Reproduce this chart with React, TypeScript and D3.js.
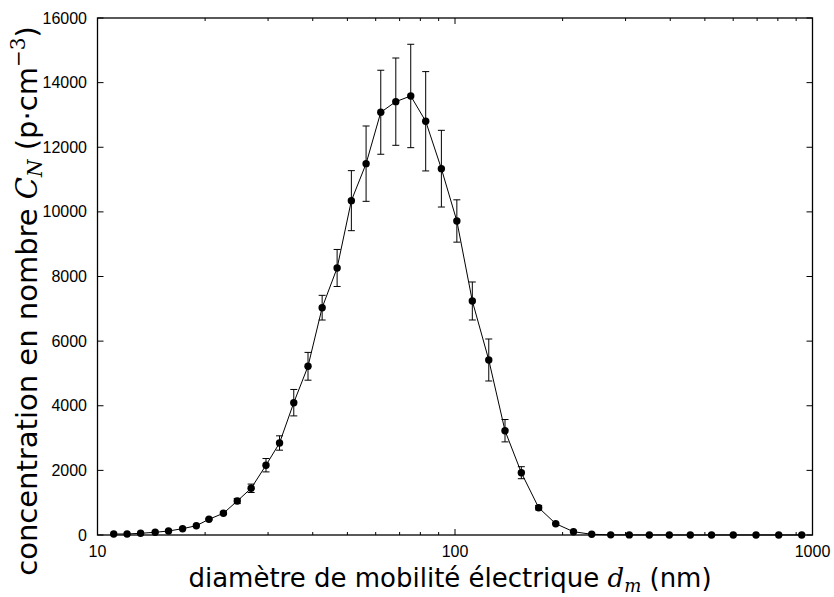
import React from 'react';
import * as d3 from 'd3';

// mobility diameter (nm)
const diameters = [11.1, 12.1, 13.2, 14.5, 15.8, 17.3, 18.9, 20.5, 22.5, 24.6, 26.9, 29.6, 32.3, 35.4, 38.8, 42.5, 46.8, 51.3, 56.4, 62.0, 68.3, 75.2, 82.8, 91.6, 101.2, 111.8, 124.3, 138.0, 153.3, 171.4, 191.3, 214.5, 241.2, 272.6, 307.3, 349.6, 397.6, 455.2, 521.9, 600.3, 695.1, 804.5, 933.0];
// number concentration (p/cm3)
const concentrations = [31, 31, 53, 84, 124, 195, 288, 486, 672, 1052, 1445, 2160, 2847, 4095, 5221, 7035, 8264, 10347, 11492, 13083, 13411, 13587, 12804, 11337, 9718, 7242, 5416, 3228, 1928, 845, 350, 102, 22, 5, 3, 2, 2, 1, 1, 1, 1, 1, 1];
// half-width of error bars
const errors = [0, 0, 0, 0, 0, 0, 0, 20, 40, 80, 130, 207, 222, 409, 430, 382, 573, 929, 1166, 1300, 1351, 1600, 1537, 1187, 655, 588, 650, 346, 186, 70, 20, 0, 0, 0, 0, 0, 0, 0, 0, 0, 0, 0, 0];

const yTicks = [0, 2000, 4000, 6000, 8000, 10000, 12000, 14000, 16000];
const xMajor = [10, 100, 1000];
const xMinor = [20, 30, 40, 50, 60, 70, 80, 90, 200, 300, 400, 500, 600, 700, 800, 900];

export default function App() {
  const width = 834;
  const height = 597;
  const left = 97.5, right = 812.5, top = 18, bottom = 535;

  const x = d3.scaleLog().domain([10, 1000]).range([left, right]);
  const y = d3.scaleLinear().domain([0, 16000]).range([bottom, top]);

  const pts = diameters.map((d, i) => ({ d, v: concentrations[i], e: errors[i] }));
  const line = d3.line<{ d: number; v: number }>()
    .x(p => x(p.d))
    .y(p => y(p.v));

  const tickFont = { fontFamily: 'Liberation Sans, Arial, sans-serif', fontSize: 16 };
  const titleFont = 'DejaVu Sans, sans-serif';
  const mathFont = 'DejaVu Serif, serif';

  return (
    <svg width={width} height={height} style={{ position: 'absolute', left: 0, top: 0, background: '#fff' }}>
      {/* error bars */}
      <g stroke="#000" strokeWidth={1}>
        {pts.filter(p => p.e > 0).map((p, i) => {
          const cx = x(p.d);
          const y1 = y(p.v + p.e);
          const y2 = y(p.v - p.e);
          return (
            <g key={i}>
              <line x1={cx} x2={cx} y1={y1} y2={y2} />
              <line x1={cx - 3.5} x2={cx + 3.5} y1={y1} y2={y1} />
              <line x1={cx - 3.5} x2={cx + 3.5} y1={y2} y2={y2} />
            </g>
          );
        })}
      </g>

      <path d={line(pts) || ''} fill="none" stroke="#000" strokeWidth={1} />

      {pts.map((p, i) => (
        <circle key={i} cx={x(p.d)} cy={y(p.v)} r={3.7} fill="#000" />
      ))}

      {/* frame */}
      <rect x={left} y={top} width={right - left} height={bottom - top} fill="none" stroke="#000" strokeWidth={1.3} />

      {/* ticks, inward on all four sides */}
      <g stroke="#000" strokeWidth={1}>
        {yTicks.map(t => (
          <g key={t}>
            <line x1={left} x2={left + 6} y1={y(t)} y2={y(t)} />
            <line x1={right} x2={right - 6} y1={y(t)} y2={y(t)} />
          </g>
        ))}
        {xMajor.map(t => (
          <g key={t}>
            <line x1={x(t)} x2={x(t)} y1={bottom} y2={bottom - 6} />
            <line x1={x(t)} x2={x(t)} y1={top} y2={top + 6} />
          </g>
        ))}
        {xMinor.map(t => (
          <g key={t}>
            <line x1={x(t)} x2={x(t)} y1={bottom} y2={bottom - 3} />
            <line x1={x(t)} x2={x(t)} y1={top} y2={top + 3} />
          </g>
        ))}
      </g>

      {yTicks.map(t => (
        <text key={t} x={87} y={y(t)} dy="0.35em" textAnchor="end" {...tickFont}>{t}</text>
      ))}
      {xMajor.map(t => (
        <text key={t} x={x(t)} y={bottom + 22} textAnchor="middle" {...tickFont}>{t}</text>
      ))}

      {/* x title */}
      <text x={450} y={587} textAnchor="middle" fontFamily={titleFont} fontSize={26}>
        diamètre de mobilité électrique{' '}
        <tspan fontFamily={mathFont} fontStyle="italic">d</tspan>
        <tspan fontFamily={mathFont} fontStyle="italic" fontSize={18} dy={5}>m</tspan>
        <tspan dy={-5}>{'  (nm)'}</tspan>
      </text>

      {/* y title */}
      <text transform={`translate(37,301) rotate(-90)`} textAnchor="middle" fontFamily={titleFont} fontSize={29}>
        concentration en nombre{' '}
        <tspan fontFamily={mathFont} fontStyle="italic">C</tspan>
        <tspan fontFamily={mathFont} fontStyle="italic" fontSize={20} dy={5}>N</tspan>
        <tspan dy={-5}>{'  (p·cm'}</tspan>
        <tspan fontFamily={mathFont} fontSize={20} dy={-12}>−3</tspan>
        <tspan dy={12}>)</tspan>
      </text>
    </svg>
  );
}
